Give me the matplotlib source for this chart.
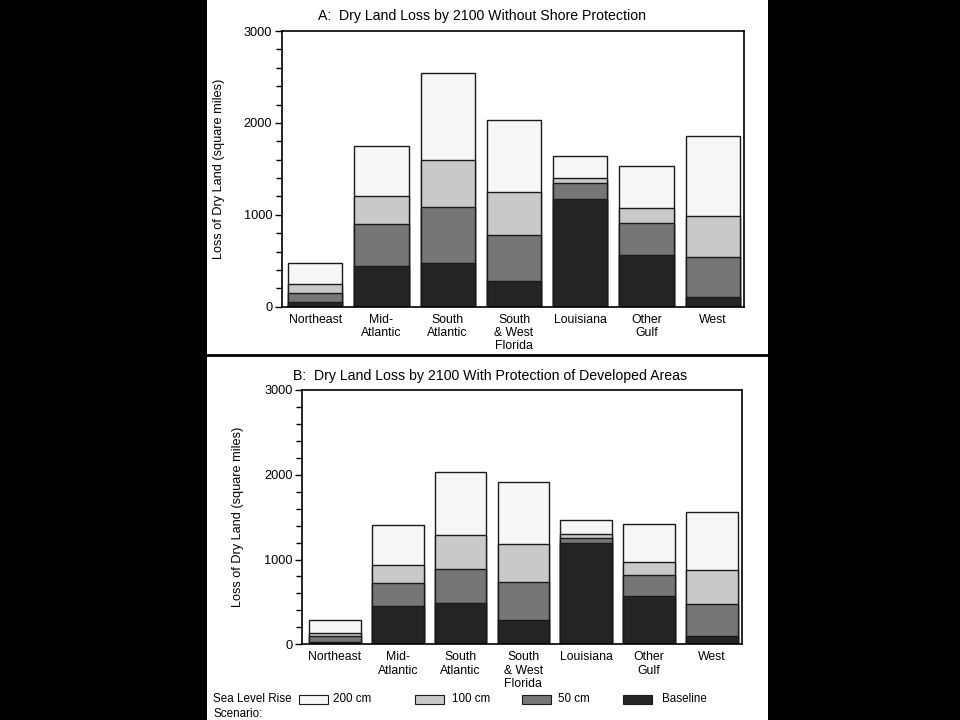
import numpy as np
import matplotlib
matplotlib.use("agg")
import matplotlib.pyplot as plt
from matplotlib.patches import Rectangle
from matplotlib.lines import Line2D
from matplotlib.ticker import MultipleLocator

plt.rcParams['font.family'] = ['Liberation Sans', 'DejaVu Sans']

regions = ["Northeast", "Mid-\nAtlantic", "South\nAtlantic", "South\n& West\nFlorida",
           "Louisiana", "Other\nGulf", "West"]
scenarios = ["Baseline", "50 cm", "100 cm", "200 cm"]
colors = ["#242424", "#767676", "#c9c9c9", "#f6f6f6"]

# cumulative loss (square miles), by scenario
# panel A: without shore protection
a_base = [48, 446, 475, 276, 1168, 559, 109]
a_50 = [146, 896, 1081, 777, 1349, 911, 537]
a_100 = [244, 1201, 1593, 1251, 1404, 1074, 987]
a_200 = [472, 1752, 2546, 2031, 1640, 1534, 1861]
# panel B: with protection of developed areas
b_base = [31, 455, 483, 287, 1191, 573, 98]
b_50 = [98, 723, 884, 735, 1258, 814, 472]
b_100 = [130, 932, 1285, 1183, 1301, 974, 876]
b_200 = [283, 1403, 2029, 1910, 1466, 1422, 1560]

fig = plt.figure(figsize=(9.6, 7.2), dpi=100, facecolor="black")
W, H = 960.0, 720.0
# white page
fig.add_artist(Rectangle((207 / W, 0), 561 / W, 1, transform=fig.transFigure,
                         facecolor="white", edgecolor="none", zorder=0))
fig.add_artist(Line2D([207 / W, 768 / W], [1 - 354.5 / H, 1 - 354.5 / H],
                      transform=fig.transFigure, color="black", lw=2))


def panel(rect, title, title_xy, series, xlim, ylab_x):
    ax = fig.add_axes(rect)
    x = np.arange(len(regions))
    # draw tallest (cumulative) first so smaller ones sit on top
    for vals, c in zip(series[::-1], colors[::-1]):
        ax.bar(x, vals, width=0.82, color=c, edgecolor="#1a1a1a", linewidth=1.0)
    ax.set_xlim(*xlim)
    ax.set_ylim(0, 3000)
    ax.yaxis.set_major_locator(MultipleLocator(1000))
    ax.yaxis.set_minor_locator(MultipleLocator(200))
    ax.tick_params(axis="y", which="major", length=5, width=1, pad=2, labelsize=9.2)
    ax.tick_params(axis="y", which="minor", length=4, width=1)
    ax.set_xticks(x)
    ax.set_xticklabels(regions, fontsize=8.8, linespacing=1.15)
    ax.tick_params(axis="x", length=0, pad=5)
    for s in ax.spines.values():
        s.set_linewidth(1.2)
    fig.text(title_xy[0] / W, 1 - title_xy[1] / H, title, fontsize=10.2,
             ha="center", va="center")
    ax.set_ylabel("Loss of Dry Land (square miles)", fontsize=9.2)
    ax.yaxis.set_label_coords(ylab_x, 0.5)
    return ax


panel([282 / W, 1 - 306.7 / H, 462 / W, 275.7 / H],
      "A:  Dry Land Loss by 2100 Without Shore Protection", (482, 16),
      [a_base, a_50, a_100, a_200], (-0.5, 6.47), -0.124)
panel([302.3 / W, 1 - 644.3 / H, 439.7 / W, 254.3 / H],
      "B:  Dry Land Loss by 2100 With Protection of Developed Areas", (490, 376),
      [b_base, b_50, b_100, b_200], (-0.52, 6.48), -0.133)

# legend along the bottom
fig.text(213 / W, 1 - 699 / H, "Sea Level Rise", fontsize=8.4, va="center")
fig.text(213 / W, 1 - 714 / H, "Scenario:", fontsize=8.4, va="center")
box_x = [299, 415, 522, 623]
txt_x = [333, 452, 558, 662]
for bx, tx, lab, c in zip(box_x, txt_x, scenarios[::-1], colors[::-1]):
    fig.add_artist(Rectangle((bx / W, 1 - 704 / H), 29 / W, 9 / H, transform=fig.transFigure,
                             facecolor=c, edgecolor="#1a1a1a", linewidth=0.8))
    fig.text(tx / W, 1 - 699 / H, lab, fontsize=8.4, va="center")

fig.savefig("out.png", dpi=100, facecolor="black")
